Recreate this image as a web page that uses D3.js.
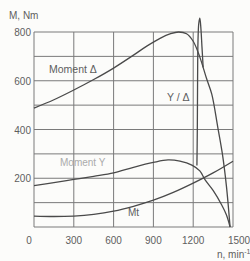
<!DOCTYPE html>
<html>
<head>
<meta charset="utf-8">
<script src="https://cdn.jsdelivr.net/npm/d3@7"></script>
<style>
  body { margin: 0; background: #fcfcfa; }
  text { font-family: "Liberation Sans Narrow", "Arial Narrow", "Liberation Sans", sans-serif; }
</style>
</head>
<body>
<div id="chart"></div>
<script>
// speed (min^-1) and torque (Nm)
const xTicks = [0, 300, 600, 900, 1200, 1500];
const yTicks = [200, 400, 600, 800];
const yGrid = [0, 100, 200, 300, 400, 500, 600, 700, 800];

const deltaN = [0, 150, 300, 450, 600, 750, 850, 950, 1030, 1090, 1150, 1200, 1250, 1300, 1340, 1385, 1420, 1450, 1478];
const deltaM = [488, 522, 562, 605, 652, 705, 742, 774, 793, 800, 793, 762, 697, 610, 545, 410, 300, 170, 0];

const starN = [0, 150, 300, 450, 600, 750, 900, 1010, 1100, 1190, 1250, 1290, 1350, 1415, 1450, 1478];
const starM = [170, 182, 195, 208, 222, 245, 265, 275, 270, 254, 230, 193, 150, 90, 50, 0];

const switchN = [1228, 1231, 1233, 1236, 1242, 1250, 1258, 1266, 1275];
const switchM = [252, 400, 600, 760, 835, 857, 815, 740, 655];

const mtN = [0, 150, 300, 450, 600, 750, 900, 1050, 1200, 1350, 1500];
const mtM = [45, 43, 45, 52, 65, 85, 110, 142, 180, 222, 270];

const W = 250, H = 261;
const svg = d3.select("#chart").append("svg")
    .attr("width", W).attr("height", H);

const x = d3.scaleLinear().domain([0, 1500]).range([34, 233]);
const y = d3.scaleLinear().domain([0, 800]).range([227, 32]);

const gridColor = "#7a7a7a";
const lineColor = "#4a4a4a";
const textColor = "#5e5e5e";

// grid
svg.append("g").selectAll("line").data(yGrid).enter().append("line")
    .attr("x1", x(0)).attr("x2", x(1500))
    .attr("y1", d => y(d)).attr("y2", d => y(d))
    .attr("stroke", gridColor).attr("stroke-width", 1);
svg.append("g").selectAll("line").data(xTicks).enter().append("line")
    .attr("x1", d => x(d)).attr("x2", d => x(d))
    .attr("y1", y(0)).attr("y2", y(800))
    .attr("stroke", gridColor).attr("stroke-width", 1);

// tick labels
svg.append("g").selectAll("text").data(yTicks).enter().append("text")
    .attr("x", 31).attr("y", d => y(d) + 4)
    .attr("text-anchor", "end")
    .attr("fill", textColor).style("font-size", "10px")
    .text(d => d);
svg.append("g").selectAll("text").data(xTicks).enter().append("text")
    .attr("x", d => x(d) - (d === 0 ? 5 : 0) + (d === 1500 ? 6 : 0)).attr("y", 244)
    .attr("text-anchor", "middle")
    .attr("fill", textColor).style("font-size", "10px")
    .text(d => d);

svg.append("text").attr("x", 9).attr("y", 19)
    .attr("fill", textColor).style("font-size", "10px").text("M, Nm");
const nLab = svg.append("text").attr("x", 217).attr("y", 258)
    .attr("fill", textColor).style("font-size", "10px").text("n, min");
nLab.append("tspan").attr("dy", -4).style("font-size", "7px").text("-1");

// curves
const line = d3.line().x(d => x(d[0])).y(d => y(d[1])).curve(d3.curveCatmullRom);
const pairs = (ns, ms) => ns.map((n, i) => [n, ms[i]]);

[[deltaN, deltaM], [starN, starM], [mtN, mtM], [switchN, switchM]].forEach(([ns, ms]) => {
    svg.append("path").datum(pairs(ns, ms))
        .attr("d", line)
        .attr("fill", "none").attr("stroke", lineColor).attr("stroke-width", 1.3);
});

// curve labels
svg.append("text").attr("x", 49).attr("y", 73)
    .attr("fill", textColor).style("font-size", "10.5px").text("Moment \u0394");
svg.append("text").attr("x", 60).attr("y", 166)
    .attr("fill", "#ababab").style("font-size", "10px").text("Moment Y");
svg.append("text").attr("x", 167).attr("y", 101)
    .attr("fill", textColor).style("font-size", "10.5px").text("Y / \u0394");
svg.append("text").attr("x", 128).attr("y", 216)
    .attr("fill", textColor).style("font-size", "10px").text("Mt");
</script>
</body>
</html>
